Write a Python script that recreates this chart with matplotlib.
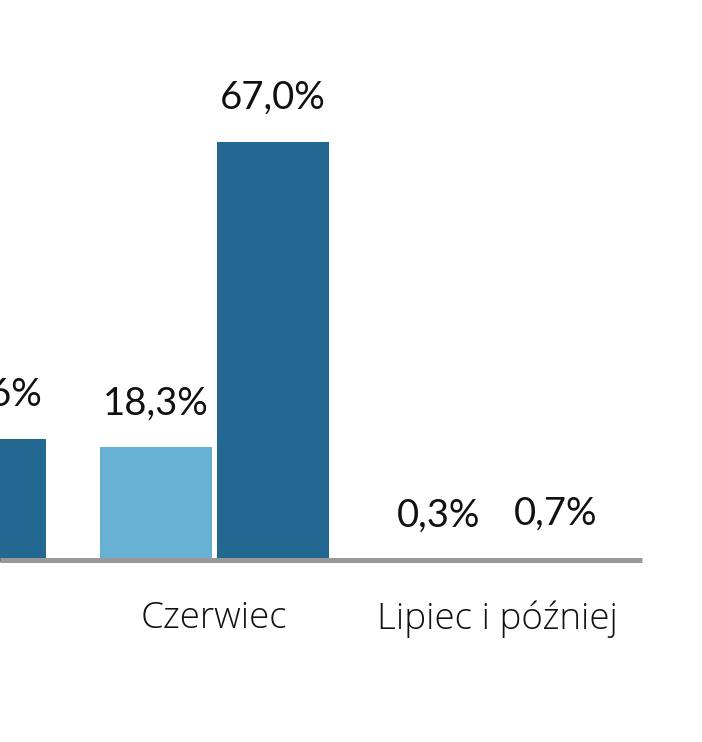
import matplotlib.pyplot as plt
import numpy as np

categories = ['Maj', 'Czerwiec', 'Lipiec i później']
series_a = [16.0, 18.3, 0.3]   # jasne słupki
series_b = [19.6, 67.0, 0.7]   # ciemne słupki

light = '#67b1d5'
dark = '#236891'
axis_gray = '#999999'

fig = plt.figure(figsize=(7.02, 7.42), dpi=100)
ax = fig.add_axes([0, 0, 1, 1])

x = np.arange(len(categories))
w = 112 / 283
off = 58.5 / 283
px = 6.27  # pikseli na punkt procentowy

ax.bar(x - off, series_a, width=w, color=light, zorder=2)
ax.bar(x + off, series_b, width=w, color=dark, zorder=2)

for xi, a, b in zip(x, series_a, series_b):
    for xx, v in ((xi - off, a), (xi + off, b)):
        ax.text(xx, v + 26 / px, f'{v:.1f}%'.replace('.', ','), ha='center', va='bottom',
                fontsize=27.5, family='Lato', color='#111111')

for xi, c in zip(x, categories):
    ax.text(xi, -57 / px, c, ha='center', va='center', fontsize=26.5,
            family='Open Sans', fontweight='light', color='#111111')

xmin = 69 / 283
xmax = (702 + 69) / 283
ax.hlines(2 / px, xmin, (642 + 69) / 283, color=axis_gray, linewidth=3.6, zorder=3)

ax.set_xlim(xmin, xmax)
ax.set_ylim(-180 / px, (742 - 180) / px)
ax.axis('off')

fig.savefig('out.png', dpi=100)
